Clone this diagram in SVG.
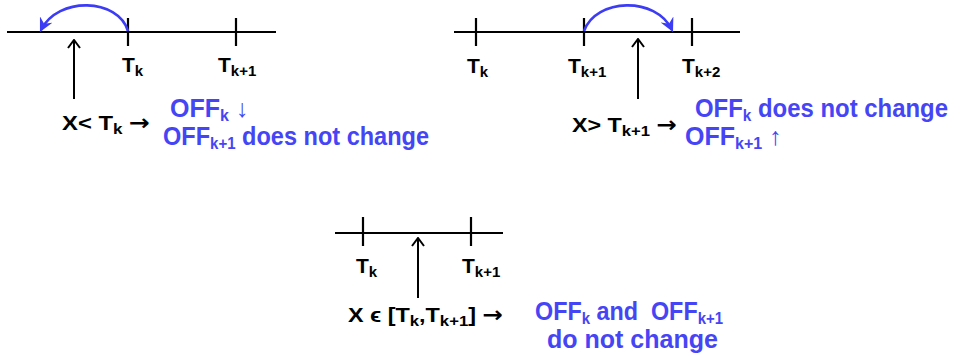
<svg xmlns="http://www.w3.org/2000/svg" width="957" height="359" viewBox="0 0 957 359">
<defs>
<marker id="up" viewBox="0 0 10 14" refX="9" refY="7" markerWidth="10" markerHeight="14" markerUnits="userSpaceOnUse" orient="auto">
<path d="M1,1 L9,7 L1,13" fill="none" stroke="#000" stroke-width="2"/>
</marker>
<marker id="blue" viewBox="0 0 12 12" refX="10" refY="6" markerWidth="14" markerHeight="14" markerUnits="userSpaceOnUse" orient="auto">
<path d="M0,0 L12,6 L0,12 L4,6 Z" fill="#3c3cf5"/>
</marker>
</defs>
<style>
.ln{stroke:#000;stroke-width:2.2;fill:none}
.ar{stroke:#000;stroke-width:2;fill:none}
.arc{stroke:#3c3cf5;stroke-width:2.6;fill:none}
.lb{font-family:"Liberation Sans",Arial,sans-serif;font-weight:bold;font-size:21px;fill:#000}
.bl{font-family:"Liberation Sans",Arial,sans-serif;font-weight:bold;font-size:25px;fill:#4545f5}
.s{font-size:15px}
.sb{font-size:16px}
.ra{font-family:"DejaVu Sans",sans-serif;font-size:22px}
</style>
<g id="panel1">
<path class="ln" d="M7,32 H276 M128,18 V46 M236,18 V46"/>
<text class="lb" x="122" y="72">T<tspan class="s" dy="4">k</tspan></text>
<text class="lb" x="218" y="72">T<tspan class="s" dy="4">k+1</tspan></text>
<text class="lb" x="62" y="130" textLength="88" lengthAdjust="spacingAndGlyphs">X&lt; T<tspan class="s" dy="4">k</tspan><tspan dy="-4"> </tspan><tspan class="ra">→</tspan></text>
<text class="bl" x="170" y="117">OFF<tspan class="sb" dy="4">k</tspan><tspan dy="-4" font-weight="normal"> ↓</tspan></text>
<text class="bl" x="163" y="145" textLength="266" lengthAdjust="spacingAndGlyphs">OFF<tspan class="sb" dy="4">k+1</tspan><tspan dy="-4"> does not change</tspan></text>
</g>
<g id="panel2">
<path class="ln" d="M454,32 H740 M476,18 V46 M584,18 V46 M692,18 V46"/>
<text class="lb" x="467" y="73">T<tspan class="s" dy="4">k</tspan></text>
<text class="lb" x="568" y="73">T<tspan class="s" dy="4">k+1</tspan></text>
<text class="lb" x="682" y="73">T<tspan class="s" dy="4">k+2</tspan></text>
<text class="lb" x="572" y="132" textLength="105" lengthAdjust="spacingAndGlyphs">X&gt; T<tspan class="s" dy="4">k+1</tspan><tspan dy="-4"> </tspan><tspan class="ra">→</tspan></text>
<text class="bl" x="695" y="117" textLength="253" lengthAdjust="spacingAndGlyphs">OFF<tspan class="sb" dy="4">k</tspan><tspan dy="-4"> does not change</tspan></text>
<text class="bl" x="685" y="145">OFF<tspan class="sb" dy="4">k+1</tspan><tspan dy="-4" font-weight="normal"> ↑</tspan></text>
</g>
<g id="panel3">
<path class="ln" d="M335,233 H503 M363,217 V246 M471,217 V246"/>
<text class="lb" x="356" y="273">T<tspan class="s" dy="4">k</tspan></text>
<text class="lb" x="462" y="273">T<tspan class="s" dy="4">k+1</tspan></text>
<text class="lb" x="348" y="322" textLength="155" lengthAdjust="spacingAndGlyphs">X ϵ [T<tspan class="s" dy="4">k</tspan><tspan dy="-4">,T</tspan><tspan class="s" dy="4">k+1</tspan><tspan dy="-4">] </tspan><tspan class="ra">→</tspan></text>
<text class="bl" x="535" y="320" textLength="188" lengthAdjust="spacingAndGlyphs" xml:space="preserve">OFF<tspan class="sb" dy="4">k</tspan><tspan dy="-4"> and  OFF</tspan><tspan class="sb" dy="4">k+1</tspan></text>
<text class="bl" x="547" y="348">do not change</text>
</g>
<g id="connectors">
<path class="ar" d="M74,99 V40" marker-end="url(#up)"/>
<path class="ar" d="M638,99 V39" marker-end="url(#up)"/>
<path class="ar" d="M418,298 V238" marker-end="url(#up)"/>
<path class="arc" d="M128,31 C118,-2 58,-4 41,30" marker-end="url(#blue)"/>
<path class="arc" d="M584,31 C596,-2 656,-4 672,30" marker-end="url(#blue)"/>
</g>
</svg>
